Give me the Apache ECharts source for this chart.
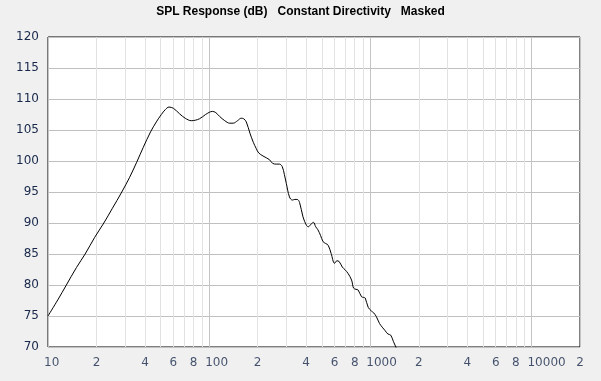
<!DOCTYPE html>
<html>
<head>
<meta charset="utf-8">
<script src="https://cdn.jsdelivr.net/npm/echarts@6/dist/echarts.min.js"></script>
<style>
html,body{margin:0;padding:0;background:#f0f0f0;}
#c{width:601px;height:381px;}
</style>
</head>
<body>
<div id="c"></div>
<script>
var freq = [10, 11.5, 13, 15, 17, 19.5, 22.2, 25, 28.7, 32, 35.5, 39, 43.3, 47, 50.5, 53.5, 56.3, 60, 65.6, 71, 77.5, 87, 95, 104.8, 110, 116, 125, 134, 141, 150, 158, 164, 170, 179, 188, 196, 203, 216, 237, 248, 262, 273, 284, 293, 301, 315, 328, 340, 352, 364, 382, 402, 413, 428, 444, 458, 473, 491, 509, 528, 548, 571, 600, 620, 640, 670, 700, 726, 765, 787, 815, 840, 882, 910, 930, 970, 1016, 1050, 1090, 1140, 1185, 1230, 1285, 1340, 1390, 1440, 1480];
var spl = [75.0, 77.6, 80.0, 82.8, 85.0, 87.7, 90.0, 92.3, 95.0, 97.3, 99.8, 102.2, 104.7, 106.3, 107.5, 108.3, 108.7, 108.5, 107.6, 106.9, 106.5, 106.8, 107.5, 108.0, 107.8, 107.2, 106.5, 106.1, 106.1, 106.5, 106.9, 106.8, 106.3, 104.5, 103.0, 102.0, 101.3, 100.8, 100.2, 99.6, 99.5, 99.5, 99.1, 97.8, 96.4, 94.2, 93.7, 93.8, 93.8, 93.3, 91.0, 89.6, 89.4, 89.8, 90.1, 89.4, 88.9, 88.0, 87.0, 86.7, 86.4, 85.1, 83.5, 83.9, 83.8, 82.9, 82.4, 81.9, 80.8, 79.5, 79.3, 79.2, 78.1, 78.0, 77.9, 76.4, 75.8, 75.5, 74.9, 73.8, 73.2, 72.7, 72.1, 71.9, 70.9, 70.0, 69.4];
var tickValues = [10, 20, 40, 60, 80, 100, 200, 400, 600, 800, 1000, 2000, 4000, 6000, 8000, 10000, 20000];
var tickLabels = ['10', '2', '4', '6', '8', '100', '2', '4', '6', '8', '1000', '2', '4', '6', '8', '10000', '2'];
var minorGrid = [20, 30, 40, 50, 60, 70, 80, 90, 200, 300, 400, 500, 600, 700, 800, 900, 2000, 3000, 4000, 5000, 6000, 7000, 8000, 9000];
var titleText = 'SPL Response (dB)   Constant Directivity   Masked';

var labelColor = '#18284a';
var chart = echarts.init(document.getElementById('c'), null, {renderer: 'canvas'});

var curve = freq.map(function (f, i) { return [f, spl[i]]; });
var tickData = tickValues.map(function (v, i) {
  var isDecade = tickLabels[i].length > 1;
  return {
    value: [v, 70],
    label: isDecade ? {align: 'left', offset: [-4, 0]} : {align: 'center'}
  };
});

chart.setOption({
  animation: false,
  backgroundColor: '#f0f0f0',
  title: {
    text: titleText,
    left: 'center',
    top: 6,
    padding: 0,
    textStyle: {fontFamily: 'Liberation Sans', fontWeight: 'bold', fontSize: 12, color: '#000'}
  },
  grid: {
    left: 48, right: 21, top: 37, bottom: 34,
    show: true, backgroundColor: '#ffffff', borderColor: '#000000', borderWidth: 1,
    containLabel: false, outerBoundsMode: 'none'
  },
  xAxis: {
    type: 'log', logBase: 10, min: 10, max: 20000,
    axisLine: {show: false}, axisTick: {show: false}, axisLabel: {show: false},
    splitLine: {show: true, lineStyle: {color: '#c4c4c4', width: 1}}
  },
  yAxis: {
    type: 'value', min: 70, max: 120, interval: 5,
    axisLine: {show: false}, axisTick: {show: false},
    axisLabel: {color: labelColor, fontFamily: 'DejaVu Sans', fontSize: 12, margin: 9},
    splitLine: {show: true, lineStyle: {color: '#c0c0c0', width: 1}}
  },
  series: [
    {
      type: 'line',
      data: curve,
      symbol: 'none',
      smooth: 0.35,
      clip: true,
      z: 3,
      lineStyle: {color: '#000000', width: 1},
      markLine: {
        silent: true,
        z: 1,
        symbol: ['none', 'none'],
        label: {show: false},
        lineStyle: {color: '#e2e2e2', type: 'solid', width: 1},
        data: minorGrid.map(function (v) { return {xAxis: v}; })
      }
    },
    {
      type: 'scatter',
      data: tickData,
      symbol: 'circle',
      symbolSize: 1,
      clip: false,
      silent: true,
      itemStyle: {color: 'transparent'},
      label: {
        show: true,
        position: 'bottom',
        distance: 9,
        color: labelColor,
        fontFamily: 'DejaVu Sans',
        fontSize: 12,
        formatter: function (p) { return tickLabels[p.dataIndex]; }
      }
    }
  ]
});
</script>
</body>
</html>
